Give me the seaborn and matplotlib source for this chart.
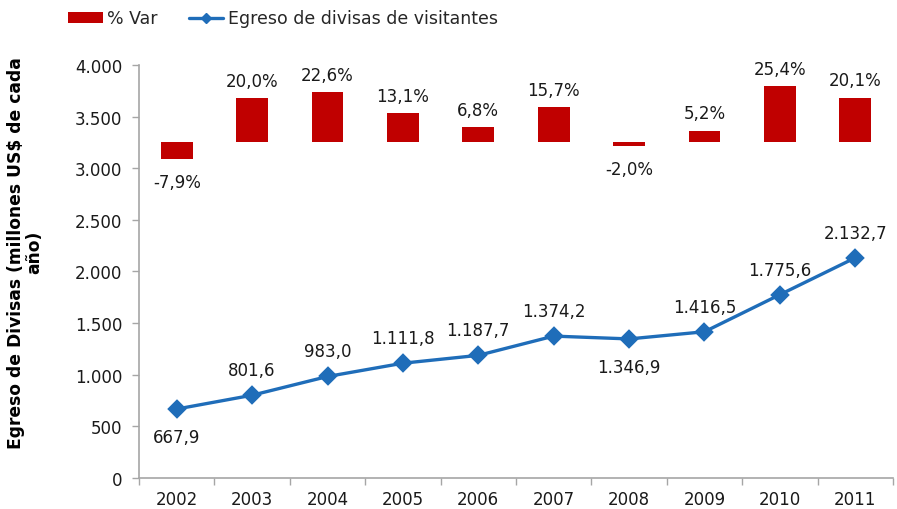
import matplotlib
matplotlib.use("Agg")
import matplotlib.pyplot as plt
import seaborn as sns
import pandas as pd
import numpy as np
from matplotlib.lines import Line2D
from matplotlib.patches import Patch
from matplotlib.ticker import FuncFormatter, FixedLocator

years = ["2002", "2003", "2004", "2005", "2006", "2007", "2008", "2009", "2010", "2011"]
egreso = [667.9, 801.6, 983.0, 1111.8, 1187.7, 1374.2, 1346.9, 1416.5, 1775.6, 2132.7]
pct_var = [-7.9, 20.0, 22.6, 13.1, 6.8, 15.7, -2.0, 5.2, 25.4, 20.1]
label_below = [True, False, False, False, False, False, True, False, False, False]

line_color = "#1F6DB9"
bar_color = "#C00000"
spine_color = "#A6A6A6"

sns.set_theme(style="white")
plt.rcParams["font.family"] = ["DejaVu Sans"]

df = pd.DataFrame({"year": years, "egreso": egreso, "pct": pct_var})


def fmt_es(v, dec=1):
    s = f"{v:,.{dec}f}"
    return s.replace(",", "X").replace(".", ",").replace("X", ".")


fig = plt.figure(figsize=(8.97, 5.10), dpi=100)
ax = fig.add_axes([0.155, 0.0608, 0.8405, 0.8098])
ax2 = ax.twinx()

sns.barplot(data=df, x="year", y="pct", ax=ax2, color=bar_color, width=0.42,
            saturation=1, edgecolor="none")
sns.pointplot(data=df, x="year", y="egreso", ax=ax, color=line_color,
              markers="D", markersize=8.5, linewidth=2.4, errorbar=None)

ax2.set_ylim(-152.7, 35.0)
ax2.axis("off")
ax.set_ylim(0, 4000)
ax.set_xlim(-0.5, 9.5)
ax2.set_xlim(-0.5, 9.5)

fs = 12

# bar labels (positive above, negative below)
pos_labels = [fmt_es(v) + "%" if v >= 0 else "" for v in pct_var]
neg_labels = [fmt_es(v) + "%" if v < 0 else "" for v in pct_var]
ax2.bar_label(ax2.containers[0], labels=pos_labels, padding=6, fontsize=fs, color="#1a1a1a")
ax2.bar_label(ax2.containers[0], labels=neg_labels, padding=10, fontsize=fs, color="#1a1a1a")

# line labels
for i, (v, below) in enumerate(zip(egreso, label_below)):
    off = -20 if below else 18
    ax.annotate(fmt_es(v), (i, v), xytext=(0, off), textcoords="offset points",
                ha="center", va="center", fontsize=fs, color="#1a1a1a")

# axes styling
ax.yaxis.set_major_locator(FixedLocator(np.arange(0, 4001, 500)))
ax.yaxis.set_major_formatter(FuncFormatter(lambda v, p: fmt_es(v, 0)))
ax.tick_params(axis="y", which="major", length=5, width=1, color=spine_color,
               labelsize=fs, labelcolor="#1a1a1a", left=True, direction="out", pad=7)
ax.set_xticks(range(len(years)))
ax.set_xticklabels(years)
ax.tick_params(axis="x", which="major", length=0, labelsize=fs, labelcolor="#1a1a1a", pad=9)
ax.xaxis.set_minor_locator(FixedLocator(np.arange(-0.5, 10, 1.0)))
ax.tick_params(axis="x", which="minor", length=5, width=1, color=spine_color,
               bottom=True, direction="out")
for s in ["top", "right"]:
    ax.spines[s].set_visible(False)
for s in ["left", "bottom"]:
    ax.spines[s].set_color(spine_color)
    ax.spines[s].set_linewidth(1.2)
ax.set_xlabel("")
ax.set_ylabel("Egreso de Divisas (millones US$ de cada\naño)", fontsize=12.3,
              fontweight="bold", color="#000000", multialignment="center",
              linespacing=1.05)
ax.yaxis.set_label_coords(-0.127, 0.548)

handles = [Patch(facecolor=bar_color, edgecolor="none", label="% Var"),
           Line2D([0], [0], color=line_color, lw=2.4, marker="D", markersize=5.5,
                  label="Egreso de divisas de visitantes")]
fig.legend(handles=handles, loc="upper left", bbox_to_anchor=(0.064, 1.0),
           ncol=2, frameon=False, fontsize=12.5, handlelength=2.0, handleheight=0.6,
           handletextpad=0.25, columnspacing=1.8, borderaxespad=0.2)

fig.savefig("out.png", dpi=100)
